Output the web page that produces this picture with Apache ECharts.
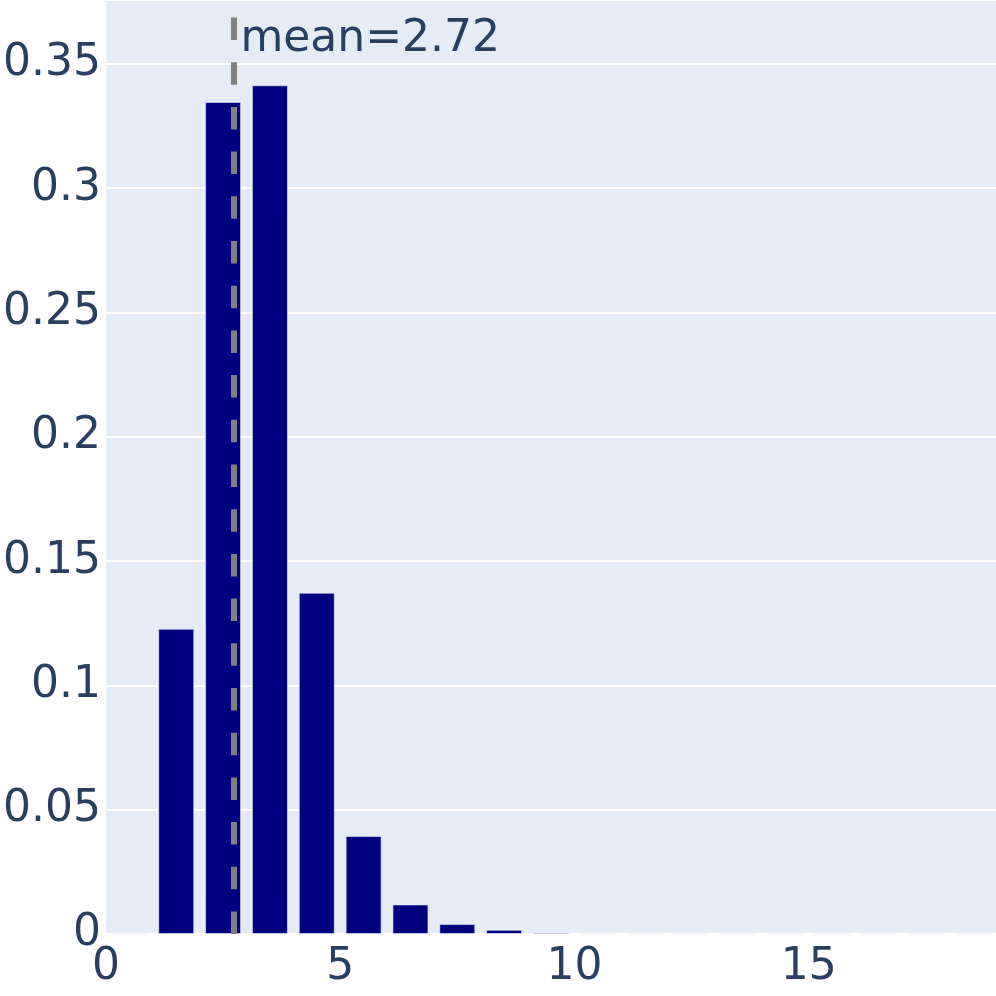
<!DOCTYPE html>
<html>
<head>
<meta charset="utf-8">
<script src="https://cdn.jsdelivr.net/npm/echarts@6/dist/echarts.min.js"></script>
<style>
  html, body { margin: 0; padding: 0; background: #fff; }
  #chart { width: 996px; height: 996px; }
</style>
</head>
<body>
<div id="chart"></div>
<script>
// histogram bins [k, k+1), probability per bin
const binStarts = [0, 1, 2, 3, 4, 5, 6, 7, 8, 9, 10, 11, 12, 13, 14, 15, 16, 17, 18];
const binProbs = [0, 0.1228, 0.3347, 0.3414, 0.1373, 0.0394, 0.0119, 0.0040, 0.0017, 0.0006,
                  0, 0, 0, 0, 0, 0, 0, 0, 0];
const meanValue = 2.72;
const yTicks = [0, 0.05, 0.1, 0.15, 0.2, 0.25, 0.3, 0.35];
const xTicks = [0, 5, 10, 15];

const textColor = '#2a3f5f';
const font = 'DejaVu Sans';

const chart = echarts.init(document.getElementById('chart'), null, { renderer: 'canvas' });

chart.setOption({
    animation: false,
    backgroundColor: '#fff',
    grid: { left: 105, right: 0, top: 0, bottom: 62, containLabel: false,
            show: true, backgroundColor: '#E5ECF6', borderWidth: 0 },
    xAxis: {
        type: 'value',
        min: 0,
        max: 19,
        interval: 5,
        axisLine: { show: false },
        axisTick: { show: false },
        splitLine: { show: false },
        axisLabel: {
            color: textColor, fontFamily: font, fontSize: 44, margin: 12,
            showMaxLabel: false,
            formatter: v => xTicks.includes(v) ? String(v) : ''
        }
    },
    yAxis: {
        type: 'value',
        min: 0,
        max: 0.3757,
        interval: 0.05,
        axisLine: { show: false },
        axisTick: { show: false },
        splitLine: { lineStyle: { color: '#fff', width: 2 } },
        axisLabel: {
            color: textColor, fontFamily: font, fontSize: 44, margin: 5,
            showMaxLabel: false,
            formatter: v => {
                const t = yTicks.find(k => Math.abs(k - v) < 1e-9);
                return t === undefined ? '' : String(t);
            }
        }
    },
    series: [{
        type: 'bar',
        data: binStarts.map((s, i) => [s + 0.5, binProbs[i]]),
        barWidth: 36,
        itemStyle: { color: '#000080', borderColor: 'rgba(235,240,250,0.6)', borderWidth: 1 },
        markLine: {
            symbol: 'none',
            silent: true,
            data: [{ xAxis: meanValue }],
            lineStyle: { color: '#808080', width: 6, type: [22.5, 22.2] },
            label: {
                show: true,
                position: 'end',
                formatter: 'mean=' + meanValue,
                color: textColor, fontFamily: font, fontSize: 44,
                align: 'left', verticalAlign: 'top',
                distance: 0,
                offset: [7, 18]
            }
        }
    }]
});
</script>
</body>
</html>
